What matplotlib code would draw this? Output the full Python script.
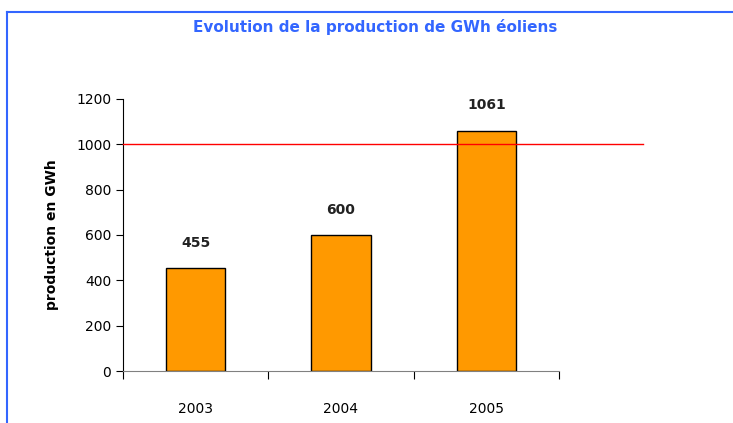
import matplotlib
matplotlib.use('Agg')
import matplotlib.pyplot as plt
from matplotlib.lines import Line2D

years = ['2003', '2004', '2005']
gwh = [455, 600, 1061]
target = 1000
yticks = [0, 200, 400, 600, 800, 1000, 1200]

plt.rcParams['font.family'] = ['DejaVu Sans']
fig = plt.figure(figsize=(7.33, 4.23), dpi=100)
ax = fig.add_axes([123/733, 1-371/423, (559-123)/733, (371-99)/423])

x = range(len(years))
ax.bar(x, gwh, width=0.41, color='#FF9900', edgecolor='black', linewidth=1, zorder=2)
for xi, v in zip(x, gwh):
    ax.text(xi, v + 80, str(v), ha='center', va='bottom', fontsize=10, fontweight='bold', color='#222222')

# target line runs past the end of the x axis
ax.plot([-0.5, 3.08], [target, target], color='red', lw=1, clip_on=False, zorder=3)

ax.set_xlim(-0.5, 2.5)
ax.set_ylim(0, 1200)
ax.set_yticks(yticks)
ax.set_xticks([-0.5, 0.5, 1.5, 2.5])
ax.set_xticklabels([])
ax.set_xticks(list(x), minor=True)
ax.set_xticklabels(years, minor=True)
ax.tick_params(axis='x', which='minor', length=0, pad=22, labelsize=10)
ax.tick_params(axis='x', which='major', length=6, direction='out', color='black')
ax.tick_params(axis='y', length=5, direction='out', labelsize=10)
ax.spines['top'].set_visible(False)
ax.spines['right'].set_visible(False)
ax.spines['bottom'].set_color('#808080')
ax.spines['left'].set_color('black')
ax.set_ylabel('production en GWh', fontsize=10, fontweight='bold', labelpad=12)

fig.text(375/733, 1-27/423, 'Evolution de la production de GWh éoliens', color='#3366FF',
         fontsize=11, fontweight='bold', ha='center', va='center')
fig.add_artist(Line2D([7/733, 1], [1-12/423, 1-12/423], color='#3366FF', lw=1.5))
fig.add_artist(Line2D([7/733, 7/733], [0, 1-12/423], color='#3366FF', lw=1.5))

plt.savefig('out.png', dpi=100)
